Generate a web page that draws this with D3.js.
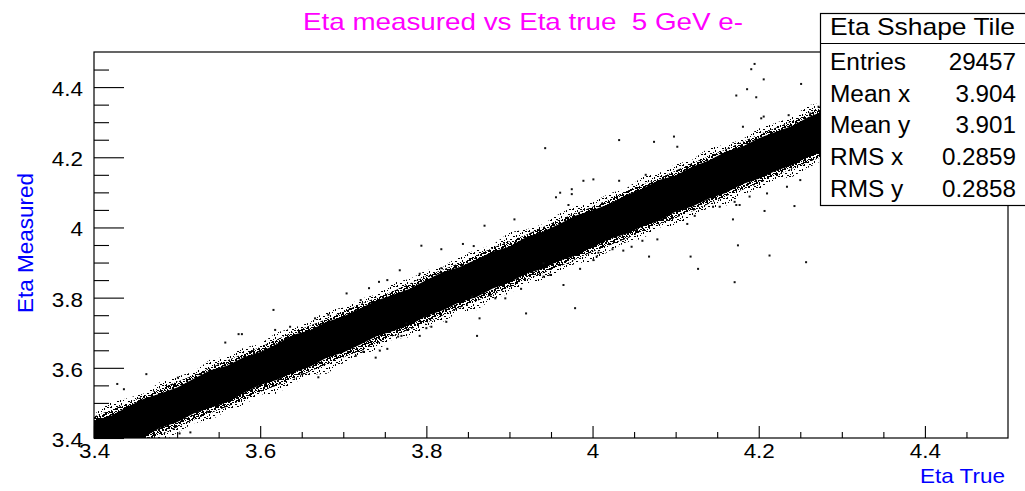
<!DOCTYPE html>
<html>
<head>
<meta charset="utf-8">
<script src="https://cdn.jsdelivr.net/npm/d3@7"></script>
<style>
  body { margin: 0; background: #fff; }
  svg { display: block; }
  text { font-family: "Liberation Sans", Arial, Helvetica, sans-serif; white-space: pre; }
</style>
</head>
<body>
<svg id="chart" width="1025" height="491"></svg>
<script>
// ---- data -------------------------------------------------------------
// Solid core of the eta (measured) vs eta (true) correlation: sampled edges.
const coreEtaTrue = [3.38,3.40,3.42,3.44,3.46,3.48,3.50,3.52,3.54,3.56,3.58,3.60,3.62,3.64,3.66,3.68,3.70,3.72,3.74,3.76,3.78,3.80,3.82,3.84,3.86,3.88,3.90,3.92,3.94,3.96,3.98,4.00,4.02,4.04,4.06,4.08,4.10,4.12,4.14,4.16,4.18,4.20,4.22,4.24,4.26,4.28,4.30,4.32,4.34,4.36];
const coreUpper = [3.426,3.450,3.463,3.488,3.512,3.527,3.544,3.569,3.593,3.606,3.630,3.645,3.668,3.694,3.707,3.731,3.746,3.769,3.792,3.808,3.825,3.850,3.873,3.887,3.909,3.931,3.946,3.972,3.988,4.010,4.034,4.049,4.067,4.092,4.110,4.135,4.148,4.173,4.191,4.216,4.230,4.254,4.272,4.289,4.315,4.333,4.357,4.371,4.394,4.416];
const coreLower = [3.330,3.346,3.371,3.387,3.403,3.429,3.445,3.470,3.486,3.502,3.528,3.551,3.565,3.587,3.603,3.629,3.644,3.666,3.690,3.705,3.722,3.748,3.764,3.787,3.801,3.826,3.843,3.868,3.882,3.905,3.920,3.944,3.967,3.981,4.003,4.019,4.045,4.060,4.082,4.098,4.123,4.139,4.161,4.177,4.202,4.218,4.240,4.256,4.279,4.297];

// Dense speckled zone bordering the core
const innerEtaTrue = [3.36,3.40,3.44,3.48,3.52,3.56,3.60,3.64,3.68,3.72,3.76,3.80,3.84,3.88,3.92,3.96,4.00,4.04,4.08,4.12,4.16,4.20,4.24,4.28,4.32,4.36,4.40];
const innerUpper = [3.419,3.461,3.498,3.542,3.579,3.621,3.659,3.702,3.739,3.781,3.818,3.862,3.899,3.942,3.979,4.022,4.059,4.103,4.140,4.184,4.222,4.265,4.303,4.346,4.385,4.428,4.466];
const innerLower = [3.291,3.329,3.371,3.409,3.452,3.489,3.531,3.568,3.611,3.648,3.691,3.728,3.771,3.808,3.851,3.888,3.931,3.967,4.009,4.046,4.089,4.125,4.168,4.204,4.247,4.283,4.326];

// Sparse speckled zone at the outer border of the band
const outerEtaTrue = [3.36,3.38,3.40,3.42,3.44,3.46,3.48,3.50,3.52,3.54,3.56,3.58,3.60,3.62,3.64,3.66,3.68,3.70,3.72,3.74,3.76,3.78,3.80,3.82,3.84,3.86,3.88,3.90,3.92,3.94,3.96,3.98,4.00,4.02,4.04,4.06,4.08,4.10,4.12,4.14,4.16,4.18,4.20,4.22,4.24,4.26,4.28,4.30,4.32,4.34,4.36,4.38,4.40];
const outerUpper = [3.430,3.458,3.468,3.502,3.513,3.527,3.560,3.575,3.589,3.624,3.632,3.657,3.668,3.701,3.714,3.730,3.765,3.771,3.796,3.809,3.843,3.853,3.878,3.887,3.920,3.935,3.951,3.986,3.994,4.009,4.039,4.063,4.072,4.097,4.110,4.144,4.155,4.180,4.193,4.227,4.236,4.251,4.282,4.298,4.314,4.348,4.357,4.381,4.395,4.425,4.439,4.463,4.480];
const outerLower = [3.280,3.292,3.323,3.328,3.357,3.381,3.385,3.415,3.442,3.450,3.478,3.493,3.524,3.526,3.556,3.580,3.583,3.614,3.639,3.649,3.682,3.687,3.715,3.731,3.760,3.764,3.796,3.812,3.841,3.846,3.874,3.898,3.902,3.933,3.957,3.968,4.000,4.005,4.032,4.056,4.061,4.094,4.109,4.137,4.144,4.171,4.195,4.200,4.232,4.247,4.273,4.283,4.310];

// Isolated entries away from the band: [eta true, eta measured]
const outlierEntries = [
  [3.616,3.765],[3.578,3.696],[3.574,3.696],[3.558,3.672],[3.463,3.582],[3.428,3.554],[3.436,3.539],[3.501,3.572],[3.516,3.416],[3.503,3.413],
  [3.636,3.717],[3.666,3.741],[3.682,3.751],[3.670,3.573],[3.650,3.582],[3.536,3.475],[3.618,3.708],[3.704,3.812],
  [3.961,4.099],[3.956,4.086],[3.971,4.064],[3.906,4.023],[3.870,4.005],[3.844,3.953],[3.857,3.947],[3.794,3.948],[3.818,3.938],[3.768,3.878],
  [3.792,3.868],[3.743,3.845],[3.753,3.850],[3.731,3.827],[3.721,3.793],[3.965,3.836],[3.920,3.755],[3.864,3.741],[3.861,3.691],[3.914,3.825],
  [3.895,3.798],[3.883,3.798],[3.941,3.860],[3.949,3.865],[3.792,3.691],[3.806,3.717],[3.824,3.731],[3.776,3.727],[3.766,3.689],
  [3.818,3.884],[3.739,3.629],[3.744,3.649],[3.753,3.654],[3.715,3.634],[3.724,3.646],[3.979,3.770],[3.985,3.882],[4.001,3.907],[4.005,3.917],
  [4.037,3.934],[4.068,3.917],[4.118,3.917],[4.127,3.882],[3.855,3.803],[3.867,3.814],[3.941,3.898],[3.770,3.691],[3.800,3.713],
  [4.213,3.920],[4.257,3.901],[4.171,3.844],
  [4.173,4.376],[4.197,4.371],[4.032,4.249],[4.074,4.244],[4.098,4.259],[4.181,4.287],[4.206,4.316],[4.102,4.230],[3.989,4.133],[4.001,4.137],
  [3.975,4.109],[3.975,4.095],[4.032,4.133],[4.064,4.150],[4.169,4.023],[4.207,4.047],[4.243,4.061],[4.175,3.949],[4.078,3.966],[4.060,3.962],
  [4.114,4.010],[4.047,3.945],[4.024,3.938],[4.007,3.928],[4.173,4.064],[4.177,4.064],[4.145,4.059],[4.123,4.033],
  [4.195,4.466],[4.191,4.451],[4.206,4.422],[4.186,4.394],[4.251,4.409],
  [4.203,4.311],[4.236,4.320],[4.262,4.325],[4.272,4.344],[4.137,4.078],[4.153,4.059],[4.171,4.073],[4.189,4.088],[4.210,4.097],[4.234,4.116],
  [4.250,4.135],[3.943,4.226]
];

// Axis ticks
const majorTicks = [3.4, 3.6, 3.8, 4.0, 4.2, 4.4];
const majorTickLabels = ["3.4", "3.6", "3.8", "4", "4.2", "4.4"];
const minorTicks = [3.45,3.5,3.55,3.65,3.7,3.75,3.85,3.9,3.95,4.05,4.1,4.15,4.25,4.3,4.35,4.45];

// Statistics panel
const statsTitle = "Eta Sshape Tile";
const statsNames = ["Entries", "Mean x", "Mean y", "RMS x", "RMS y"];
const statsValues = ["29457", "3.904", "3.901", "0.2859", "0.2858"];

const chartTitle = "Eta measured vs Eta true  5 GeV e-";
const xTitle = "Eta True";
const yTitle = "Eta Measured";

// ---- layout ----------------------------------------------------------
const svg = d3.select("#chart");
const frame = { left: 94, right: 1008, top: 52, bottom: 438 };
const x = d3.scaleLinear().domain([3.4, 4.5]).range([frame.left, frame.right]);
const y = d3.scaleLinear().domain([3.4, 4.5]).range([frame.bottom, frame.top]);

// stretch text horizontally by factor k, or to a fixed width
function stretch(sel, k, fixed) {
  sel.each(function () {
    const w = fixed != null ? fixed : this.getComputedTextLength() * k;
    this.setAttribute("textLength", w);
    this.setAttribute("lengthAdjust", "spacingAndGlyphs");
  });
}

const defs = svg.append("defs");
defs.append("clipPath").attr("id", "plotClip")
  .append("rect")
  .attr("x", frame.left).attr("y", frame.top)
  .attr("width", frame.right - frame.left).attr("height", frame.bottom - frame.top);

// speckle textures for the band borders
function speckle(id, size, cells) {
  const p = defs.append("pattern").attr("id", id)
    .attr("patternUnits", "userSpaceOnUse").attr("width", size).attr("height", size);
  cells.forEach(c => p.append("rect").attr("x", c[0]).attr("y", c[1])
    .attr("width", c[2]).attr("height", c[3]).attr("fill", "#000"));
}
speckle("speckleSparse", 11, [[0,0,2,1],[5,1,1,2],[8,0,2,1],[2,4,1,1],[7,5,2,1],[10,4,1,2],[0,7,1,2],[4,8,2,1],[9,9,1,1],[6,10,2,1],[3,2,1,1],[1,10,1,1]]);
speckle("speckleDense", 7, [[0,0,2,2],[3,0,1,1],[5,1,2,1],[1,3,2,1],[4,2,2,2],[0,5,1,2],[3,5,2,1],[6,4,1,2],[2,6,1,1],[5,6,2,1]]);

const plot = svg.append("g").attr("clip-path", "url(#plotClip)");

const outerRows = outerEtaTrue.map((v, i) => ({ t: v, lo: outerLower[i], hi: outerUpper[i] }));
plot.append("path").datum(outerRows)
  .attr("d", d3.area().x(d => x(d.t)).y0(d => y(d.lo)).y1(d => y(d.hi)))
  .attr("fill", "url(#speckleSparse)");

const innerRows = innerEtaTrue.map((v, i) => ({ t: v, lo: innerLower[i], hi: innerUpper[i] }));
plot.append("path").datum(innerRows)
  .attr("d", d3.area().x(d => x(d.t)).y0(d => y(d.lo)).y1(d => y(d.hi)))
  .attr("fill", "url(#speckleDense)");

// solid core
const coreRows = coreEtaTrue.map((v, i) => ({ t: v, lo: coreLower[i], hi: coreUpper[i] }));
plot.append("path")
  .datum(coreRows)
  .attr("d", d3.area().x(d => x(d.t)).y0(d => y(d.lo)).y1(d => y(d.hi)))
  .attr("fill", "#000");

// isolated entries
const dot = 2;
plot.selectAll("rect.outlier").data(outlierEntries).join("rect")
  .attr("class", "outlier")
  .attr("x", d => x(d[0]) - dot / 2).attr("y", d => y(d[1]) - dot / 2)
  .attr("width", dot).attr("height", dot).attr("fill", "#111");

// ---- axes --------------------------------------------------------------
function cleanAxis(g) {
  g.select(".domain").remove();
  g.selectAll(".tick line").attr("stroke", "#000").attr("stroke-width", 1.1);
}

svg.append("g").attr("transform", `translate(0,${frame.bottom})`)
  .call(d3.axisBottom(x).tickValues(minorTicks).tickSize(-6).tickFormat(""))
  .call(cleanAxis);
const gx = svg.append("g").attr("transform", `translate(0,${frame.bottom})`)
  .call(d3.axisBottom(x).tickValues(majorTicks).tickSize(-12)
    .tickFormat((d, i) => majorTickLabels[i]))
  .call(cleanAxis);
gx.selectAll(".tick text")
  .attr("y", 20).attr("dy", 0)
  .attr("font-size", 19.5).attr("fill", "#000")
  .style("font-family", '"Liberation Sans", Arial, sans-serif')
  .call(stretch, 1.15);

svg.append("g").attr("transform", `translate(${frame.left},0)`)
  .call(d3.axisLeft(y).tickValues(minorTicks).tickSize(-15).tickFormat(""))
  .call(cleanAxis);
const gy = svg.append("g").attr("transform", `translate(${frame.left},0)`)
  .call(d3.axisLeft(y).tickValues(majorTicks).tickSize(-30)
    .tickFormat((d, i) => majorTickLabels[i]))
  .call(cleanAxis);
gy.selectAll(".tick text")
  .attr("x", -11).attr("y", 8.5).attr("dy", 0)
  .attr("font-size", 19.5).attr("fill", "#000")
  .style("font-family", '"Liberation Sans", Arial, sans-serif')
  .call(stretch, 1.15);

// frame
svg.append("rect")
  .attr("x", frame.left).attr("y", frame.top)
  .attr("width", frame.right - frame.left).attr("height", frame.bottom - frame.top)
  .attr("fill", "none").attr("stroke", "#000").attr("stroke-width", 1.2);

// ---- titles ------------------------------------------------------------
svg.append("text")
  .attr("x", 303).attr("y", 30)
  .attr("font-size", 24).attr("fill", "#ff00ff")
  .attr("xml:space", "preserve")
  .text(chartTitle)
  .call(stretch, 1, 440);

svg.append("text")
  .attr("x", 1005).attr("y", 483)
  .attr("text-anchor", "end")
  .attr("font-size", 21).attr("fill", "#0000ff")
  .text(xTitle)
  .call(stretch, 1, 85);

svg.append("text")
  .attr("transform", "translate(33,313) rotate(-90)")
  .attr("font-size", 21.5).attr("fill", "#0000ff")
  .text(yTitle)
  .call(stretch, 1, 140);

// ---- statistics panel --------------------------------------------------
const stats = svg.append("g");
stats.append("rect")
  .attr("x", 820.5).attr("y", 13.5).attr("width", 230).attr("height", 192)
  .attr("fill", "#fff").attr("stroke", "#000").attr("stroke-width", 1.2);
stats.append("line")
  .attr("x1", 820.5).attr("x2", 1030).attr("y1", 43.5).attr("y2", 43.5)
  .attr("stroke", "#000").attr("stroke-width", 1.2);
stats.append("text")
  .attr("x", 830).attr("y", 35).attr("font-size", 24).attr("fill", "#000")
  .text(statsTitle)
  .call(stretch, 1, 185);
const rowY = d3.scaleLinear().domain([0, statsNames.length - 1]).range([70, 196.7]);
stats.selectAll("text.sname").data(statsNames).join("text")
  .attr("class", "sname")
  .attr("x", 830).attr("y", (d, i) => rowY(i))
  .attr("font-size", 23.5).attr("fill", "#000")
  .text(d => d)
  .call(stretch, 1.04);
stats.selectAll("text.svalue").data(statsValues).join("text")
  .attr("class", "svalue")
  .attr("x", 1016).attr("y", (d, i) => rowY(i))
  .attr("text-anchor", "end")
  .attr("font-size", 23.5).attr("fill", "#000")
  .text(d => d)
  .call(stretch, 1.03);
</script>
</body>
</html>
